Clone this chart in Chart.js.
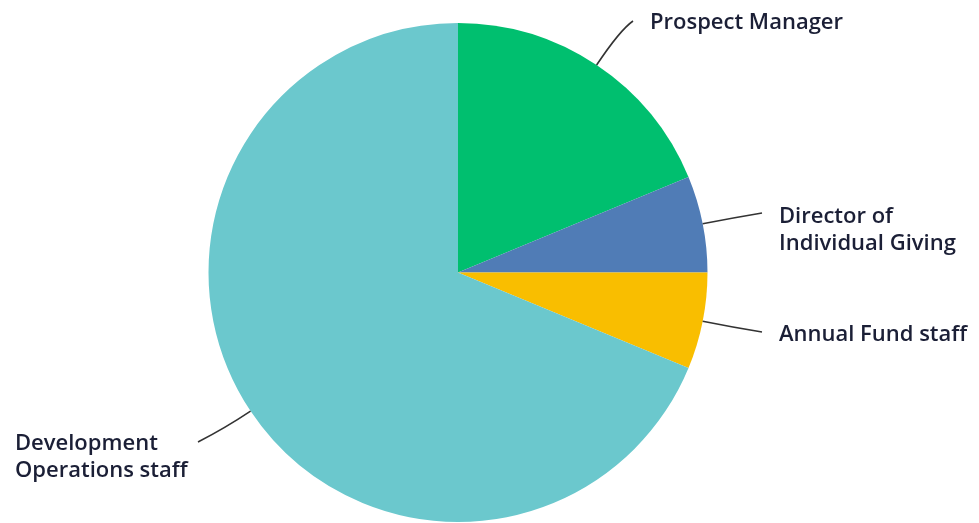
<!DOCTYPE html>
<html>
<head>
<meta charset="utf-8">
<title>Roles</title>
<script src="https://cdn.jsdelivr.net/npm/chart.js@4.4.1/dist/chart.umd.min.js"></script>
<style>
  html, body { margin: 0; padding: 0; background: #ffffff; }
  #wrap { position: relative; width: 979px; height: 523px; }
</style>
</head>
<body>
<div id="wrap"><canvas id="rolesChart"></canvas></div>
<script>
// data (counts, 16 responses)
const categories = [
    'Prospect Manager',
    ['Director of', 'Individual Giving'],
    'Annual Fund staff',
    ['Development', 'Operations staff']
];
const counts = [3, 1, 1, 11];
const sliceColors = ['#00bf6f', '#507cb6', '#f9be00', '#6bc8cd'];

// where each callout sits (label text + end of the leader line)
const callouts = [
    { anchor: 0.5, bend: 42, lineEnd: [633, 21],  textAt: [650, 29],  align: 'left' },
    { anchor: 0.5, bend: 30, lineEnd: [762, 213], textAt: [779, 223], align: 'left' },
    { anchor: 0.5, bend: 30, lineEnd: [762, 332], textAt: [779, 341], align: 'left' },
    { anchor: 0.5, bend: 30, lineEnd: [198, 442], textAt: [15, 450],  align: 'left' }
];

const leaderLabels = {
    id: 'leaderLabels',
    afterDraw(chart, args, opts) {
        const ctx = chart.ctx;
        const arcs = chart.getDatasetMeta(0).data;
        const labels = chart.data.labels;
        ctx.save();
        arcs.forEach((arc, i) => {
            const c = opts.items[i];
            const p = arc.getProps(['x', 'y', 'startAngle', 'endAngle', 'outerRadius'], true);
            const a = p.startAngle + (p.endAngle - p.startAngle) * c.anchor;
            const sx = p.x + Math.cos(a) * p.outerRadius;
            const sy = p.y + Math.sin(a) * p.outerRadius;
            const cx = p.x + Math.cos(a) * (p.outerRadius + c.bend);
            const cy = p.y + Math.sin(a) * (p.outerRadius + c.bend);

            ctx.beginPath();
            ctx.moveTo(sx, sy);
            ctx.quadraticCurveTo(cx, cy, c.lineEnd[0], c.lineEnd[1]);
            ctx.strokeStyle = opts.lineColor;
            ctx.lineWidth = 1.6;
            ctx.stroke();

            const lines = Array.isArray(labels[i]) ? labels[i] : [labels[i]];
            ctx.fillStyle = opts.textColor;
            ctx.font = opts.font;
            ctx.textAlign = c.align;
            ctx.textBaseline = 'alphabetic';
            lines.forEach((t, j) => {
                ctx.fillText(t, c.textAt[0], c.textAt[1] + j * opts.lineHeight);
            });
        });
        ctx.restore();
    }
};

new Chart(document.getElementById('rolesChart'), {
    type: 'pie',
    data: {
        labels: categories,
        datasets: [{
            data: counts,
            backgroundColor: sliceColors,
            borderWidth: 0
        }]
    },
    options: {
        animation: false,
        responsive: true,
        maintainAspectRatio: false,
        layout: {
            padding: { top: 23, bottom: 1, left: 208, right: 271 }
        },
        plugins: {
            legend: { display: false },
            tooltip: { enabled: false },
            leaderLabels: {
                items: callouts,
                lineColor: '#333333',
                textColor: '#1b1f36',
                font: '600 22px "Open Sans", sans-serif',
                lineHeight: 27
            }
        }
    },
    plugins: [leaderLabels]
});
</script>
</body>
</html>
